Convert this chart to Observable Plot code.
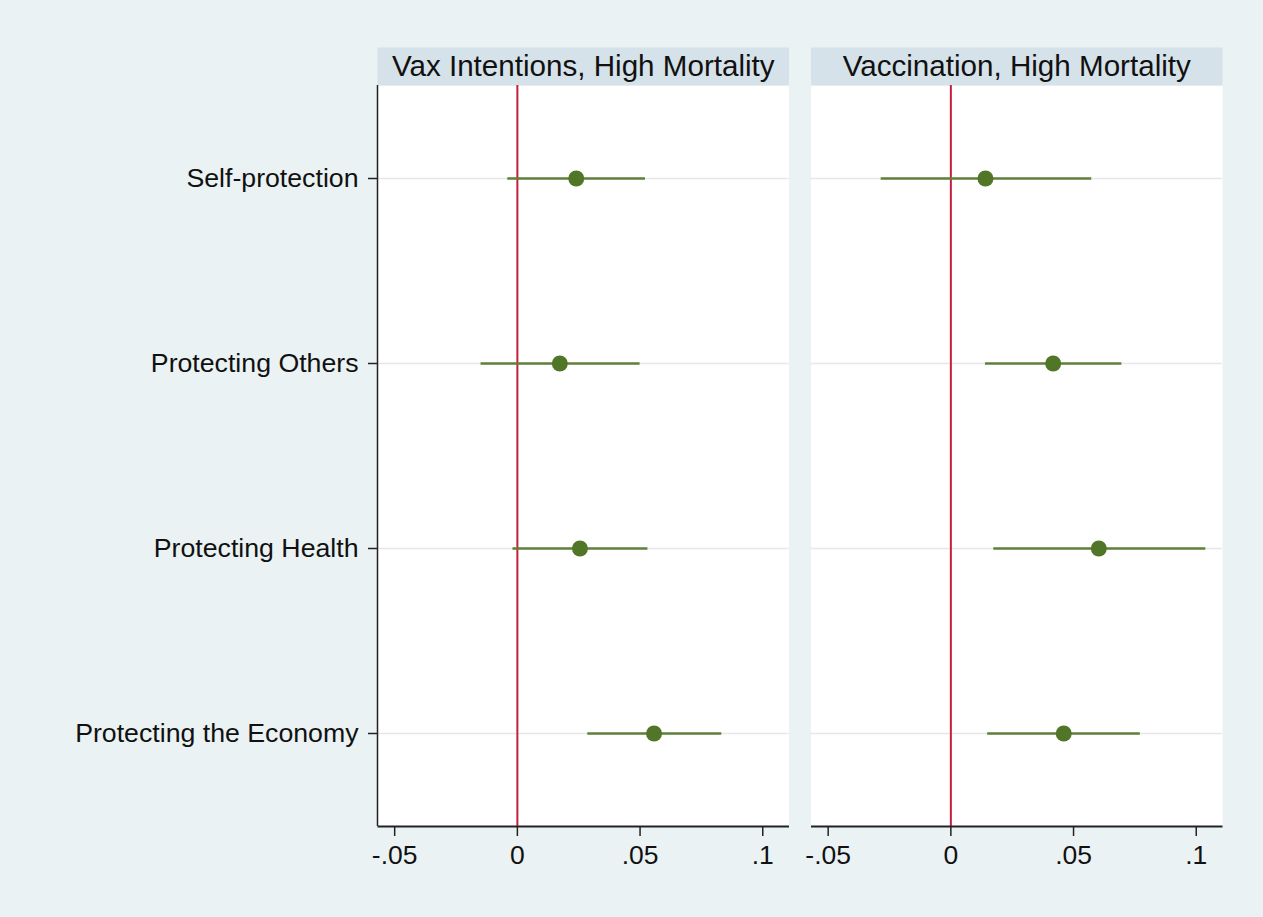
<!DOCTYPE html>
<html>
<head>
<meta charset="utf-8">
<script src="https://cdn.jsdelivr.net/npm/d3@7"></script>
<script src="https://cdn.jsdelivr.net/npm/@observablehq/plot@0.6"></script>
<style>
  html, body { margin: 0; padding: 0; background: #eaf2f3; }
  #chart { width: 1263px; height: 917px; }
</style>
</head>
<body>
<div id="chart"></div>
<script>
const categories = ["Self-protection", "Protecting Others", "Protecting Health", "Protecting the Economy"];
const panels = ["Vax Intentions, High Mortality", "Vaccination, High Mortality"];
const xTicks = [-0.05, 0, 0.05, 0.1];
const xDomain = [-0.0570, 0.1107];

const coefIntentions = [0.0240, 0.0173, 0.0255, 0.0557];
const loIntentions   = [-0.0041, -0.0150, -0.0020, 0.0285];
const hiIntentions   = [0.0520, 0.0498, 0.0530, 0.0831];

const coefVaccination = [0.0141, 0.0417, 0.0603, 0.0460];
const loVaccination   = [-0.0286, 0.0139, 0.0173, 0.0148];
const hiVaccination   = [0.0572, 0.0695, 0.1037, 0.0770];

const rows = [];
categories.forEach((c, i) => {
  rows.push({panel: panels[0], cat: c, coef: coefIntentions[i], lo: loIntentions[i], hi: hiIntentions[i]});
  rows.push({panel: panels[1], cat: c, coef: coefVaccination[i], lo: loVaccination[i], hi: hiVaccination[i]});
});

const W = 1263, H = 917;
const mTop = 85, mBottom = 91, mLeft = 377, mRight = 41;
const innerH = H - mTop - mBottom;
const font = "'Liberation Sans', Arial, Helvetica, sans-serif";
const locale = d3.formatLocale({decimal: ".", thousands: ",", grouping: [3], currency: ["", ""], minus: "-"});
const fmt = locale.format(".2~f");
const tickFmt = d => d === 0 ? "0" : fmt(d).replace("0.", ".");

const chart = Plot.plot({
  width: W,
  height: H,
  marginTop: mTop,
  marginBottom: mBottom,
  marginLeft: mLeft,
  marginRight: mRight,
  style: {background: "#eaf2f3", fontFamily: font, color: "#111"},
  fx: {domain: panels, axis: null, paddingInner: 0.0507, paddingOuter: 0, round: false, label: null},
  x: {domain: xDomain, axis: null, label: null},
  y: {type: "point", domain: categories, padding: 0.5, axis: null, label: null},
  marks: [
    Plot.frame({fill: "white", stroke: null}),
    Plot.frame({fill: "#d6e2e9", stroke: null, insetTop: -38, insetBottom: innerH}),
    Plot.gridY({stroke: "#e6e8e8", strokeOpacity: 1, strokeWidth: 1.5}),
    Plot.ruleX([0], {stroke: "#c51f3f", strokeWidth: 2}),
    Plot.link(rows, {fx: "panel", y1: "cat", y2: "cat", x1: "lo", x2: "hi", stroke: "#5f7f3a", strokeWidth: 2.5}),
    Plot.dot(rows, {fx: "panel", y: "cat", x: "coef", r: 8, fill: "#527628", stroke: null}),
    Plot.frame({fill: "#222", stroke: null, insetTop: innerH - 1, insetBottom: -1}),
    Plot.ruleX([{p: panels[0], x: xDomain[0]}], {x: "x", fx: "p", stroke: "#222", strokeWidth: 1.5}),
    Plot.axisX({ticks: xTicks, tickFormat: tickFmt, tickSize: 10, tickPadding: 9, fontSize: 26.5, stroke: "#222", strokeWidth: 1.5, label: null}),
    Plot.axisY({tickSize: 9, tickPadding: 10, fontSize: 26.7, stroke: "#222", strokeWidth: 1.5, label: null}),
    Plot.text(panels, {fx: d => d, text: d => d, frameAnchor: "top", dy: -19, fontSize: 29.6, fill: "#111", lineAnchor: "middle"})
  ]
});
document.getElementById("chart").appendChild(chart);
</script>
</body>
</html>
